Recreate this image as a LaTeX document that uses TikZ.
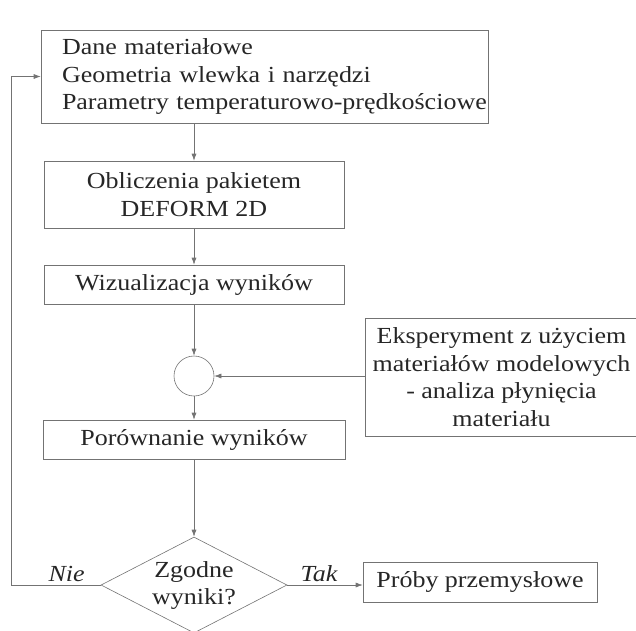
\documentclass[tikz,border=0pt]{standalone}
\usepackage{fontspec}
\setmainfont[FakeStretch=1.13]{Liberation Serif}
\usepackage{tikz}
\usetikzlibrary{positioning}
\usetikzlibrary{shapes.geometric}
\usetikzlibrary{arrows.meta}

\tikzset{
  blok/.style={rectangle, draw=black!55, line width=0.6pt, inner sep=0pt,
    text=black!85, font=\fontsize{23pt}{27.5pt}\selectfont, align=center},
  romb/.style={diamond, draw=black!55, line width=0.6pt, aspect=1.94,
    minimum width=186pt, minimum height=96pt, inner sep=0pt,
    text=black!85, font=\fontsize{23pt}{27pt}\selectfont, align=center},
  strzalka/.style={draw=black!55, line width=0.6pt, -{Latex[length=7pt,width=5pt]}},
  opis/.style={text=black!85, font=\fontsize{23pt}{27.5pt}\selectfont\itshape}
}

\begin{document}
\begin{tikzpicture}[x=1pt, y=-1pt]
  \useasboundingbox (0,0) rectangle (636,630);

  % Dane wejsciowe
  \node[blok, text width=405pt, inner xsep=21pt, minimum height=93pt, align=left]
    (dane) at (264.5,76.5)
    {Dane materiałowe\\Geometria wlewka i narzędzi\\\mbox{Parametry temperaturowo-prędkościowe}};

  % Obliczenia i wyniki
  \node[blok, minimum width=300pt, minimum height=67pt] (oblicz) at (194,194.5)
    {Obliczenia pakietem\\DEFORM 2D};
  \node[blok, minimum width=300pt, minimum height=39pt] (wizual) at (194,284.5)
    {Wizualizacja wyników};
  \node[circle, draw=black!55, line width=0.6pt, minimum size=40pt, inner sep=0pt]
    (suma) at (194,376) {};

  % Eksperyment
  \node[blok, minimum width=273pt, minimum height=118pt] (ekspe) at (501.5,377)
    {Eksperyment z użyciem\\materiałów modelowych\\- analiza płynięcia\\materiału};

  % Porownanie
  \node[blok, minimum width=302pt, minimum height=39pt] (porown) at (194,439.5)
    {Porównanie wyników};
  \node[romb] (zgodne) at (194,585) {Zgodne\\wyniki?};
  \node[blok, minimum width=234pt, minimum height=40pt] (proby) at (480,582)
    {Próby przemysłowe};
  \coordinate (powrot) at (11,585);

  % Strzalki
  \draw[strzalka] (oblicz.north |- dane.south) -- (oblicz.north);
  \draw[strzalka] (oblicz) -- (wizual);
  \draw[strzalka] (wizual) -- (suma);
  \draw[strzalka] (ekspe.west |- suma) -- (suma);
  \draw[strzalka] (suma) -- (porown);
  \draw[strzalka] (porown) -- (zgodne);
  \draw[strzalka] (zgodne) -- node[opis, above, pos=0.42] {Tak} (proby.west |- zgodne);
  \draw[strzalka] (zgodne.west) -- node[opis, above, pos=0.38] {Nie} (powrot) |- (dane.west);
\end{tikzpicture}
\end{document}
